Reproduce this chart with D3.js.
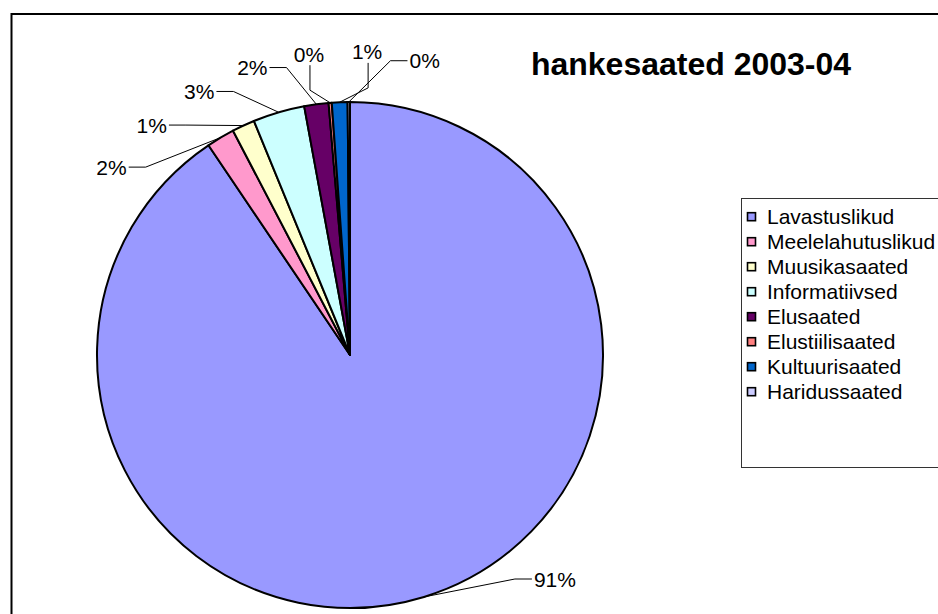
<!DOCTYPE html>
<html>
<head>
<meta charset="utf-8">
<script src="https://cdn.jsdelivr.net/npm/d3@7"></script>
<style>
    body { margin: 0; background: #fff; }
    svg { display: block; font-family: "Liberation Sans", Arial, sans-serif; }
</style>
</head>
<body>
<svg id="chart" width="938" height="614"></svg>
<script>
// chart data (percent of total)
const categories = ["Lavastuslikud", "Meelelahutuslikud", "Muusikasaated", "Informatiivsed",
    "Elusaated", "Elustiilisaated", "Kultuurisaated", "Haridussaated"];
const shares = [90.55, 1.8, 1.45, 3.3, 1.55, 0.2, 1.0, 0.15];
const sliceColors = ["#9999ff", "#ff99cc", "#ffffcc", "#ccffff", "#660066", "#ff8080", "#0066cc", "#ccccff"];
const title = "hankesaated 2003-04";

const width = 938, height = 614;
const cx = 350, cy = 355, radius = 253;
const labelRadius = radius * 1.2;
const minGap = 11 * Math.PI / 180;

const svg = d3.select("#chart");

// outer chart area frame (runs off the right and bottom edge)
svg.append("rect")
    .attr("x", 11.5).attr("y", 14)
    .attr("width", width + 20).attr("height", height + 20)
    .attr("fill", "#fff")
    .attr("stroke", "#000")
    .attr("stroke-width", 2);

const data = categories.map((c, i) => ({name: c, value: shares[i], color: sliceColors[i]}));
const total = d3.sum(shares);
const pie = d3.pie().sort(null).value(d => d.value);
const arcs = pie(data);
const arc = d3.arc().innerRadius(0).outerRadius(radius);

const g = svg.append("g").attr("transform", "translate(" + cx + "," + cy + ")");

g.selectAll("path.slice")
    .data(arcs)
    .enter().append("path")
    .attr("class", "slice")
    .attr("d", arc)
    .attr("fill", d => d.data.color)
    .attr("stroke", "#000")
    .attr("stroke-width", 2)
    .attr("stroke-linejoin", "round");

// label placement: start at the middle of each slice, then push apart
// (pushing favours the counter-clockwise side a little, like the original)
let labels = arcs.map(d => {
    let a = (d.startAngle + d.endAngle) / 2;
    if (a > Math.PI) a -= 2 * Math.PI;
    return {arc: d, mid: a, angle: a, text: Math.round(d.data.value / total * 100) + "%"};
});
let sorted = labels.slice().sort((a, b) => a.angle - b.angle);
for (let it = 0; it < 400; it++) {
    for (let i = 0; i < sorted.length - 1; i++) {
        let diff = sorted[i + 1].angle - sorted[i].angle;
        if (diff < minGap) {
            let push = minGap - diff;
            sorted[i].angle -= push * 0.57;
            sorted[i + 1].angle += push * 0.43;
        }
    }
}

const bottomLimit = height - 35;
labels.forEach(l => {
    l.x = labelRadius * Math.sin(l.angle);
    l.y = -labelRadius * Math.cos(l.angle);
    if (cy + l.y > bottomLimit) {
        // keep the label inside the visible area, slide it along the circle
        l.y = bottomLimit - cy;
        let dx = Math.sqrt(labelRadius * labelRadius - l.y * l.y);
        l.x = Math.sin(l.angle) >= 0 ? dx : -dx;
    }
    l.ax = radius * Math.sin(l.mid);
    l.ay = -radius * Math.cos(l.mid);
});

const labelG = g.append("g").attr("class", "labels");

labels.forEach(l => {
    let t = labelG.append("text")
        .attr("x", l.x)
        .attr("y", l.y)
        .attr("dy", "0.36em")
        .attr("text-anchor", "middle")
        .attr("font-size", 21)
        .attr("fill", "#000")
        .text(l.text);
    let w = t.node().getComputedTextLength();
    let pts;
    if (Math.abs(l.x) / labelRadius > 0.18) {
        let side = l.x < l.ax ? 1 : -1;
        let sx = l.x + side * (w / 2 + 2);
        pts = [[sx, l.y], [sx + side * 17, l.y], [l.ax, l.ay]];
    } else {
        pts = [[l.x + 1, l.y + 11], [l.x + 1, l.y + 36], [l.ax, l.ay]];
    }
    labelG.append("path")
        .attr("d", d3.line()(pts))
        .attr("fill", "none")
        .attr("stroke", "#000")
        .attr("stroke-width", 1);
});

// title
svg.append("text")
    .attr("x", 691)
    .attr("y", 75)
    .attr("text-anchor", "middle")
    .attr("font-size", 32)
    .attr("font-weight", "bold")
    .text(title);

// legend
const legendX = 741, legendY = 198, rowH = 25;
svg.append("rect")
    .attr("x", legendX + 0.5).attr("y", legendY + 0.5)
    .attr("width", 220).attr("height", 269)
    .attr("fill", "#fff")
    .attr("stroke", "#333")
    .attr("stroke-width", 1);

const items = svg.selectAll("g.legend-item")
    .data(data)
    .enter().append("g")
    .attr("class", "legend-item")
    .attr("transform", (d, i) => "translate(" + legendX + "," + (legendY + 18.7 + i * rowH) + ")");

items.append("rect")
    .attr("x", 6.5).attr("y", -4)
    .attr("width", 8).attr("height", 8)
    .attr("fill", d => d.color)
    .attr("stroke", "#000")
    .attr("stroke-width", 1.6);

items.append("text")
    .attr("x", 26)
    .attr("y", 0)
    .attr("dy", "0.36em")
    .attr("font-size", 21)
    .text(d => d.name);
</script>
</body>
</html>
